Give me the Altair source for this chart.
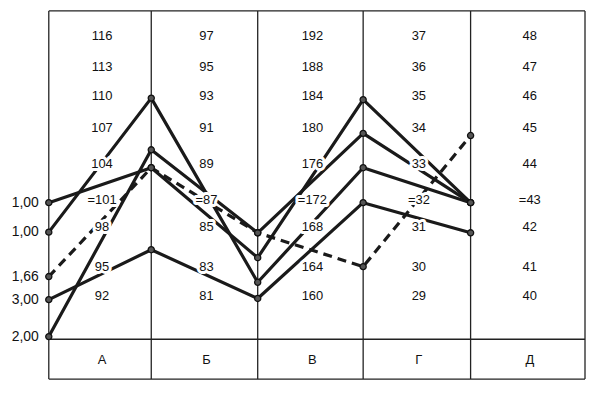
import altair as alt
import pandas as pd

# ---- data ----
categories = ["А", "Б", "В", "Г", "Д"]
col_top = [116, 97, 192, 37, 48]      # value of the top scale row in each column
col_step = [3, 2, 4, 1, 1]            # scale step per row in each column

labels_A = ["116", "113", "110", "107", "104", "=101", "98", "95", "92"]
labels_B = ["97", "95", "93", "91", "89", "=87", "85", "83", "81"]
labels_V = ["192", "188", "184", "180", "176", "=172", "168", "164", "160"]
labels_G = ["37", "36", "35", "34", "33", "=32", "31", "30", "29"]
labels_D = ["48", "47", "46", "45", "44", "=43", "42", "41", "40"]
col_labels = [labels_A, labels_B, labels_V, labels_G, labels_D]

left_labels = ["1,00", "1,00", "1,66", "3,00", "2,00"]
s1 = [100.7, 88.8, 164.9, 34.9, 42.9]
s2 = [97.6, 92.9, 161.9, 32.9, 42.9]
s3 = [94.0, 88.8, 167.4, 30.0, 44.8]
s4 = [91.7, 83.85, 159.75, 31.9, 41.85]
s5 = [88.2, 89.8, 167.4, 33.86, 42.9]
series = [s1, s2, s3, s4, s5]
dashed = [False, False, True, False, False]

# ---- tables ----
pts = []
for k, (vals, lab, d) in enumerate(zip(series, left_labels, dashed)):
    for c, v in enumerate(vals):
        pts.append({"s": k, "x": c, "r": (col_top[c] - v) / col_step[c],
                    "dash": d, "lab": lab})
pts = pd.DataFrame(pts)

lab_rows = []
for c, labs in enumerate(col_labels):
    for t in labs:
        v = float(t.strip("="))
        lab_rows.append({"x": c + 0.5, "r": (col_top[c] - v) / col_step[c], "t": t})
lab_df = pd.DataFrame(lab_rows)

left_df = pts[pts["x"] == 0]

n = len(categories)
row_top, row_sep, row_bot = -0.8, 9.35, 10.35
cat_df = pd.DataFrame({"x": [i + 0.5 for i in range(n)], "r": [9.88] * n, "t": categories})
vlines = pd.DataFrame({"x": list(range(n + 1)), "r": [row_top] * (n + 1), "r2": [row_bot] * (n + 1)})
hlines = pd.DataFrame({"x": [0] * 3, "x2": [n] * 3, "r": [row_top, row_sep, row_bot]})

xs = alt.Scale(domain=[-0.4, 0, 1, 2, 3, 4, 5], range=[0, 41, 144, 251, 357, 465, 580],
               nice=False, zero=False)
ys = alt.Scale(domain=[row_top, 0, 1, 2, 3, 4, 5, 6, 7, 8, row_sep, row_bot],
               range=[2, 27, 58, 88, 120, 156, 192, 219, 259, 289, 332, 372],
               nice=False, zero=False)

X = alt.X("x:Q", scale=xs, axis=None)
Y = alt.Y("r:Q", scale=ys, axis=None)

FONT = "Liberation Sans"

vl = alt.Chart(vlines).mark_rule(color="#222", strokeWidth=1.3).encode(
    x=X, y=Y, y2="r2:Q")
hl = alt.Chart(hlines).mark_rule(color="#222", strokeWidth=1.3).encode(
    x=X, x2="x2:Q", y=Y)

solid = alt.Chart(pts).transform_filter("!datum.dash").mark_line(
    color="#1a1a1a", strokeWidth=3.2, strokeJoin="round").encode(
    x=X, y=Y, detail="s:N")
dash = alt.Chart(pts).transform_filter("datum.dash").mark_line(
    color="#1a1a1a", strokeWidth=3.2, strokeDash=[9, 6]).encode(
    x=X, y=Y, detail="s:N")
dots = alt.Chart(pts).mark_circle(size=38, fill="#555", stroke="#111",
                                  strokeWidth=1.3, opacity=1).encode(x=X, y=Y)

halo = alt.Chart(lab_df).mark_text(font=FONT, fontSize=13, stroke="white",
                                   strokeWidth=6, strokeJoin="round", dx=2,
                                   baseline="middle", color="white").encode(
    x=X, y=Y, text="t:N")
labs = alt.Chart(lab_df).mark_text(font=FONT, fontSize=13, color="#111", dx=2,
                                   baseline="middle").encode(x=X, y=Y, text="t:N")
left = alt.Chart(left_df).mark_text(font=FONT, fontSize=14, color="#111", dx=-10,
                                    align="right", baseline="middle").encode(
    x=X, y=Y, text="lab:N")
cats = alt.Chart(cat_df).mark_text(font=FONT, fontSize=13, color="#111", dx=2,
                                   baseline="middle").encode(x=X, y=Y, text="t:N")

chart = alt.layer(vl, hl, solid, dash, dots, halo, labs, left, cats).properties(
    width=581, height=373, padding=0, autosize="none", background="white"
).configure_view(stroke=None)

chart.save("out.html", embed_options={"renderer": "svg", "actions": False})
